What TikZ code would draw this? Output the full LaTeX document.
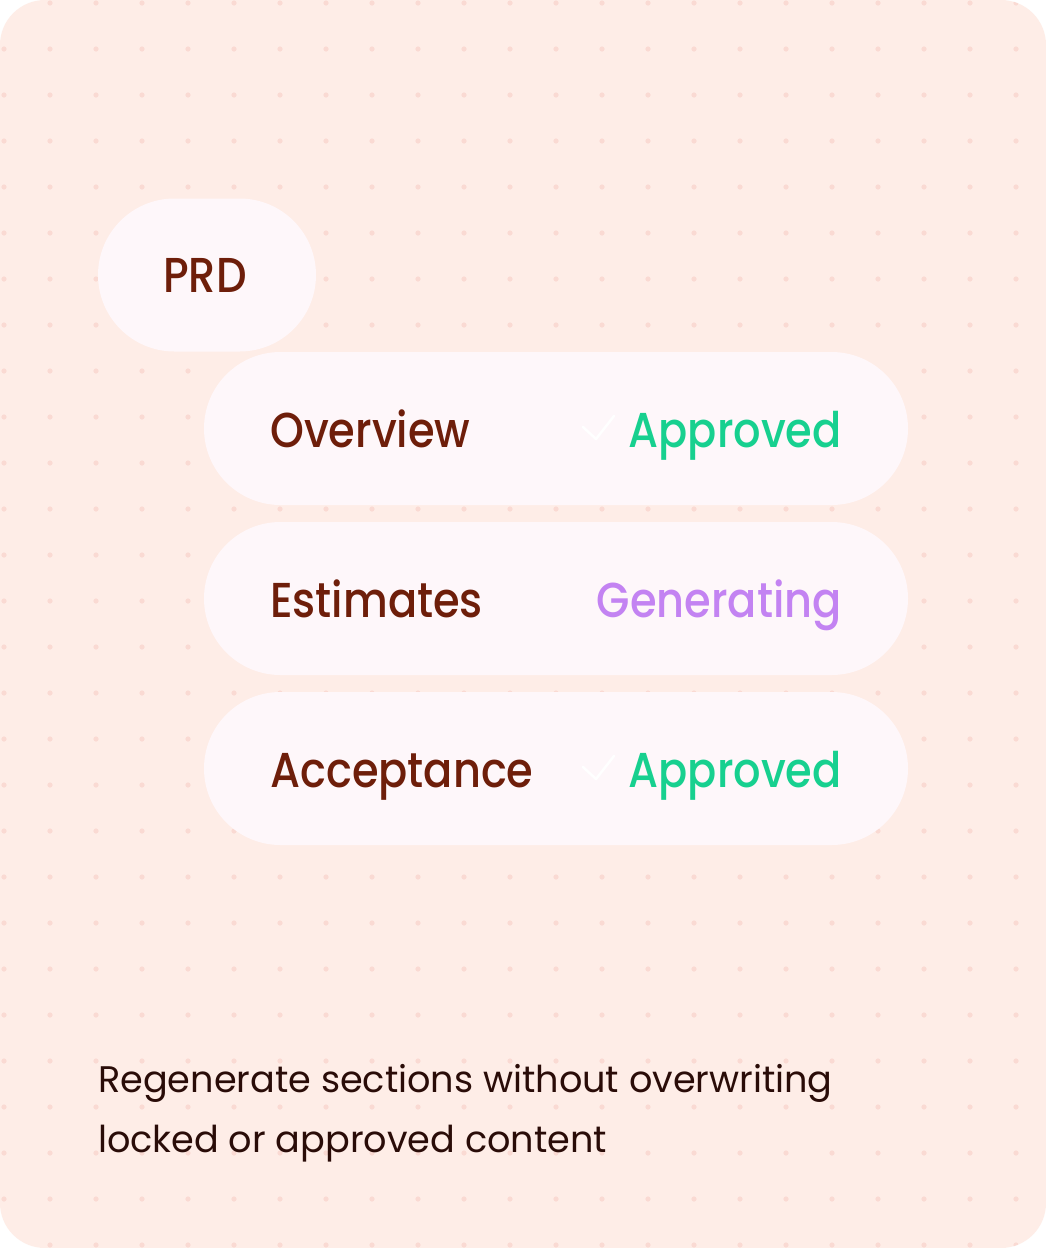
\documentclass[tikz,border=0pt]{standalone}
\usepackage{fontspec}
\setmainfont{Poppins}[FakeStretch=0.99]
\newfontfamily\labelfont{Poppins Medium}[FakeStretch=0.88]
\definecolor{cardbg}{HTML}{FEEDE7}
\definecolor{dotc}{HTML}{FADAD3}
\definecolor{chipbg}{HTML}{FEF7FA}
\definecolor{brown}{HTML}{6E1E0A}
\definecolor{okgreen}{HTML}{17D08F}
\definecolor{genpurple}{HTML}{C383F2}
\definecolor{bodyc}{HTML}{2A0C08}
\tikzset{
  chip/.style={fill=chipbg, draw=none, rounded corners=76.5pt, minimum height=153pt, inner sep=0pt},
  lbl/.style={anchor=base west, inner sep=0pt, text=brown, font=\labelfont\fontsize{49}{56}\selectfont},
  status/.style={anchor=base east, inner sep=0pt, font=\labelfont\fontsize{49}{56}\selectfont},
  tick/.style={draw=white, line width=2.5pt, line cap=round, line join=round},
  body/.style={anchor=base west, inner sep=0pt, text=bodyc, font=\fontsize{37}{60}\selectfont}
}
\begin{document}
\begin{tikzpicture}[x=1pt, y=-1pt]
\useasboundingbox (0,0) rectangle (1046,1248);
\fill[white] (0,0) rectangle (1046,1248);
\fill[cardbg, rounded corners=45pt] (0,0) rectangle (1046,1248);
\begin{scope}
\clip[rounded corners=45pt] (0,0) rectangle (1046,1248);
\foreach \i in {0,...,22} {
  \foreach \j in {0,...,27} {
    \fill[dotc] ({4+46*\i},{3+46*\j}) circle (2.6pt);
  }
}
\end{scope}
% chips
\node[chip, minimum width=218pt] (prd) at (207,275) {};
\node[chip, minimum width=704pt] (ov) at (556,428.5) {};
\node[chip, minimum width=704pt] (es) at (556,598.5) {};
\node[chip, minimum width=704pt] (ac) at (556,768.5) {};
% labels
\node[lbl] (prdt) at (163,292) {PRD};
\node[lbl] (ovt) at (270,447) {Overview};
\node[lbl] (est) at (270,617) {Estimates};
\node[lbl] (act) at (270,787) {Acceptance};
% statuses
\node[status, text=okgreen] (ovs) at (842,447) {Approved};
\node[status, text=genpurple] (ess) at (842,617) {Generating};
\node[status, text=okgreen] (acs) at (842,787) {Approved};
% ticks
\draw[tick] (583,427) -- (596,439) -- (614,416);
\draw[tick] (583,767) -- (596,779) -- (614,756);
% body
\node[body] (b1) at (98,1092) {Regenerate sections without overwriting};
\node[body] (b2) at (98,1152) {locked or approved content};
\end{tikzpicture}
\end{document}
